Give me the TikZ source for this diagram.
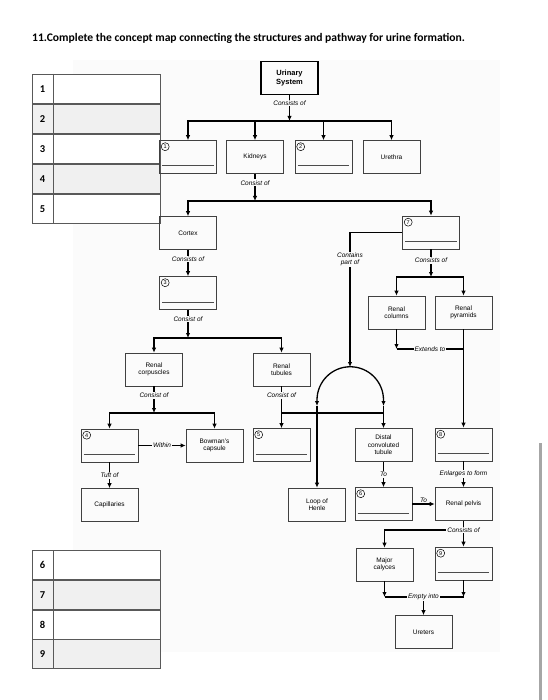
\documentclass[tikz,border=0pt]{standalone}
\usepackage{fontspec}
\setmainfont{Liberation Sans}
\newfontfamily\titlefont{Carlito}
\usetikzlibrary{calc,arrows.meta}
\usetikzlibrary{positioning}
\definecolor{bgpage}{gray}{0.985}
\tikzset{
  box/.style={draw=black!75, line width=0.6pt, minimum width=57pt, minimum height=33pt, inner sep=1pt, align=center, font=\fontsize{6.5}{7.5}\selectfont},
  blank/.style={box},
  num/.style={draw, circle, inner sep=0pt, minimum size=8pt, line width=0.5pt, font=\fontsize{5.5}{5.5}\selectfont},
  link/.style={line width=1.3pt},
  arr/.style={link, -{Latex[length=5pt,width=4.5pt]}},
  lbl/.style={fill=bgpage, inner sep=1pt, align=center, font=\fontsize{6.5}{7}\selectfont\itshape},
}

\begin{document}
\begin{tikzpicture}[x=1pt, y=-1pt]
\useasboundingbox (0,0) rectangle (547,700);
\fill[bgpage] (73,60) rectangle (500,652);
\node[anchor=west, inner sep=0pt, font=\titlefont\bfseries\fontsize{11.6}{13}\selectfont] (title) at (32,38) {11.Complete the concept map connecting the structures and pathway for urine formation.};

\foreach \i/\y/\c in {1/74/white,2/104/black!6,3/134/white,4/164/black!6,5/194/white,6/550/white,7/580/black!6,8/610/white,9/639/black!6}{
  \draw[fill=\c, draw=black!65, line width=0.7pt] (32,\y) rectangle (160,\y+29.7);
  \draw[draw=black!65, line width=0.7pt] (53,\y) -- (53,\y+29.7);
  \node[font=\titlefont\bfseries\fontsize{10.5}{12}\selectfont] (t\i) at (42.5,\y+15) {\i};
}

\node[box, draw=black, line width=1.5pt, font=\fontsize{7.5}{8.5}\selectfont\bfseries] (us) at (289.5,78) {Urinary\\System};
\node[blank] (b1) at (188,157) {};
\node[box] (kid) at (255,157) {Kidneys};
\node[blank] (b2) at (323.5,157) {};
\node[box] (ure) at (391.5,157) {Urethra};
\node[box] (cor) at (188,233) {Cortex};
\node[blank] (b7) at (431,232.5) {};
\node[blank] (b3) at (188,293) {};
\node[box] (col) at (396.5,312.5) {Renal\\columns};
\node[box] (pyr) at (463.5,312.5) {Renal\\pyramids};
\node[box] (corp) at (154,369.5) {Renal\\corpuscles};
\node[box] (tub) at (281.5,369.5) {Renal\\tubules};
\node[blank] (b4) at (109.5,445.5) {};
\node[box] (bow) at (214.5,445.5) {Bowman's\\capsule};
\node[blank] (b5) at (281.5,445) {};
\node[box] (dct) at (383.5,445) {Distal\\convoluted\\tubule};
\node[blank] (b8) at (463.5,444.5) {};
\node[box] (cap) at (109.5,505) {Capillaries};
\node[box] (loop) at (317,504.5) {Loop of\\Henle};
\node[blank] (b6) at (383.5,504) {};
\node[box] (pel) at (463.5,504) {Renal pelvis};
\node[box] (cal) at (384.5,564.5) {Major\\calyces};
\node[blank] (b9) at (463.5,563.5) {};
\node[box] (uret) at (423.5,632) {Ureters};

\foreach \n in {1,...,9}{
  \node[num] (c\n) at ([shift={(6,6.5)}]b\n.north west) {\n};
  \draw[black!70, line width=0.6pt] ([shift={(3,-8)}]b\n.south west) -- ([shift={(-3,-8)}]b\n.south east);
}

\coordinate (bar1) at (0,121);
\draw[arr] (us) -- (us |- bar1) node[lbl, pos=0.3]{Consists of};
\draw[link, line cap=rect] (b1 |- bar1) -- (ure |- bar1);
\foreach \t in {b1,kid,b2,ure} \draw[arr] (\t |- bar1) -- (\t);

\coordinate (bar2) at (0,201);
\draw[arr] (kid) -- (kid |- bar2) node[lbl, pos=0.33]{Consist of};
\draw[link, line cap=rect] (cor |- bar2) -- (b7 |- bar2);
\draw[arr] (cor |- bar2) -- (cor);
\draw[arr] (b7 |- bar2) -- (b7);
\draw[arr] (cor) -- (b3) node[lbl, pos=0.35]{Consists of};

\coordinate (bar3) at (0,338);
\draw[arr] (b3) -- (b3 |- bar3) node[lbl, pos=0.33]{Consist of};
\draw[link, line cap=rect] (corp |- bar3) -- (tub |- bar3);
\draw[arr] (corp |- bar3) -- (corp);
\draw[arr] (tub |- bar3) -- (tub);

\coordinate (bar4) at (0,413);
\draw[arr] (corp) -- (corp |- bar4) node[lbl, pos=0.33]{Consist of};
\draw[link, line cap=rect] (b4 |- bar4) -- (bow |- bar4);
\draw[arr] (b4 |- bar4) -- (b4);
\draw[arr] (bow |- bar4) -- (bow);
\draw[arr] (b4) -- (bow) node[lbl, midway]{Within};
\draw[arr] (b4) -- (cap) node[lbl, midway]{Tuft of};

\draw[link] (tub) -- (tub |- bar4) node[lbl, pos=0.33]{Consist of};
\draw[link, line cap=rect] (tub |- bar4) -- (dct |- bar4);
\draw[arr] (tub |- bar4) -- (b5);

\coordinate (top) at (350,367);
\coordinate (al) at (317,406);
\coordinate (ar) at (383.5,406);
\draw[arr] (b7) -| (top) node[lbl, pos=0.6]{Contains\\part of};
\draw[link, {Latex[length=5pt,width=4.5pt]}-{Latex[length=5pt,width=4.5pt]}] (al) -- ++(0,-6) arc[start angle=180, end angle=0, radius=33.25pt] -- (ar);
\draw[arr] (al) -- (loop);
\draw[arr] (ar) -- (dct);

\coordinate (bar5) at (0,277);
\draw[arr] (b7) -- (b7 |- bar5) node[lbl, pos=0.4]{Consists of};
\draw[link, line cap=rect] (col |- bar5) -- (pyr |- bar5);
\draw[arr] (col |- bar5) -- (col);
\draw[arr] (pyr |- bar5) -- (pyr);

\coordinate (ext) at (0,349);
\draw[arr] (col) -- (col |- ext);
\draw[link] (col |- ext) -- (pyr |- ext) node[lbl, midway]{Extends to};
\draw[arr] (pyr) -- (b8);

\draw[arr] (dct) -- (b6) node[lbl, midway]{To};
\draw[arr] (b6) -- (pel) node[lbl, midway, above, fill=none]{To};
\draw[arr] (b8) -- (pel) node[lbl, midway]{Enlarges to form};

\coordinate (bar6) at (0,530);
\draw[arr] (pel) -- (b9);
\draw[arr] (pel |- bar6) -| (cal);
\node[lbl] (cons) at (pel |- bar6) {Consists of};

\coordinate (bar7) at (0,597);
\draw[arr] (cal) -- (cal |- bar7);
\draw[arr] (b9) -- (b9 |- bar7);
\draw[link] (cal |- bar7) -- (b9 |- bar7);
\draw[arr] (uret |- bar7) -- (uret);
\node[lbl] (emp) at (uret |- bar7) {Empty into};

\draw[black!35, line width=3pt] (540.5,443) -- (540.5,700);
\end{tikzpicture}
\end{document}
